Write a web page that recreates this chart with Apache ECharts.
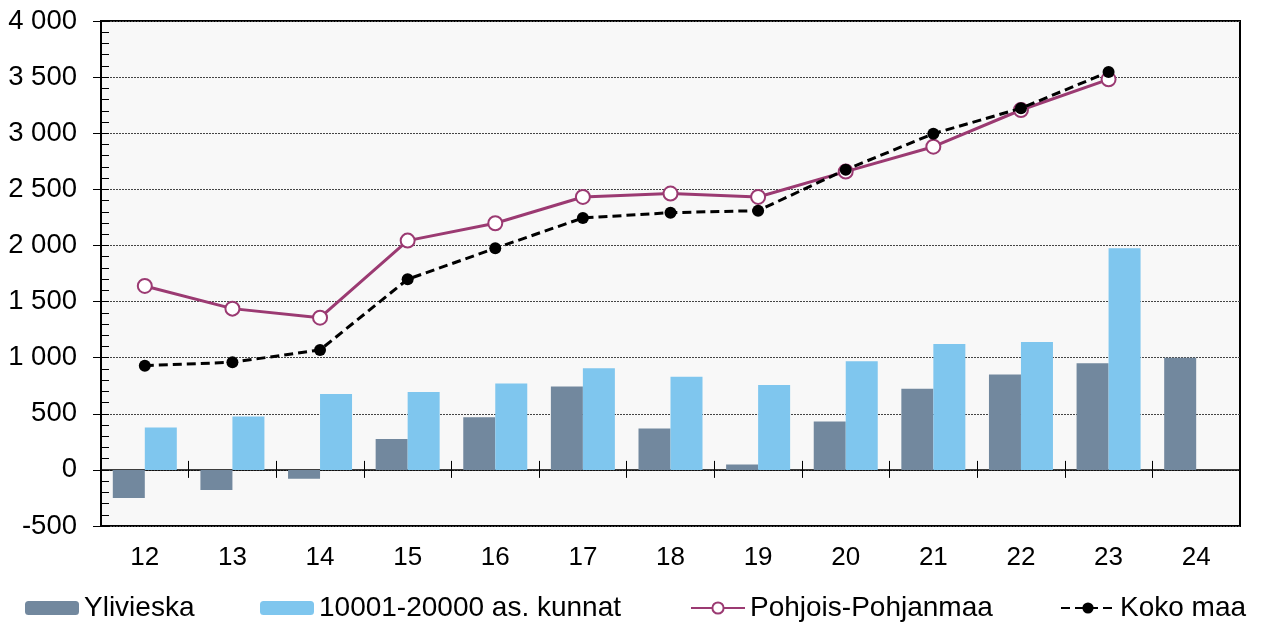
<!DOCTYPE html>
<html>
<head>
<meta charset="utf-8">
<script src="https://cdn.jsdelivr.net/npm/echarts@6/dist/echarts.min.js"></script>
<style>
  html, body { margin: 0; padding: 0; background: #fff; }
  #chart { width: 1266px; height: 622px; }
</style>
</head>
<body>
<div id="chart"></div>
<script>
// kategoriat (vuodet)
const categories = ['12', '13', '14', '15', '16', '17', '18', '19', '20', '21', '22', '23', '24'];

// sarjat
const ylivieska = [-250, -180, -80, 275, 470, 742, 368, 47, 431, 722, 849, 950, 1000];
const kunnat10001 = [377, 475, 677, 695, 769, 906, 831, 757, 968, 1122, 1140, 1975, null];
const pohjoisPohjanmaa = [1639, 1437, 1356, 2043, 2198, 2432, 2462, 2432, 2658, 2880, 3207, 3480, null];
const kokoMaa = [929, 959, 1069, 1699, 1975, 2245, 2292, 2310, 2675, 2996, 3222, 3546, null];

const seriesNames = ['Ylivieska', '10001-20000 as. kunnat', 'Pohjois-Pohjanmaa', 'Koko maa'];
const legendLeft = [25, 260, 690, 1060];

const fontFamily = '"Liberation Sans", Arial, sans-serif';

const chart = echarts.init(document.getElementById('chart'));

const fmt = (v) => String(v).replace(/\B(?=(\d{3})+(?!\d))/g, ' ');

// yksi selite per sarja, jotta paikat osuvat
const legends = seriesNames.map((name, i) => ({
    left: legendLeft[i],
    top: 594,
    padding: 0,
    itemWidth: 54,
    itemHeight: 14,
    itemGap: 0,
    textStyle: { fontSize: 28, color: '#000', fontFamily: fontFamily },
    data: [name]
}));

const option = {
    animation: false,
    textStyle: { fontFamily: fontFamily },
    grid: {
        left: 101,
        right: 26,
        top: 21,
        bottom: 96,
        show: true,
        backgroundColor: '#f8f8f8',
        borderColor: '#000',
        borderWidth: 2,
        containLabel: false
    },
    legend: legends,
    xAxis: [
        {
            // nimikkeet alareunassa
            type: 'category',
            data: categories,
            position: 'bottom',
            axisLine: { show: false, onZero: false },
            axisTick: { show: false },
            axisLabel: { fontSize: 26, color: '#000', margin: 19 }
        },
        {
            // nollaviiva, väkäset ylöspäin
            type: 'category',
            data: categories,
            position: 'bottom',
            axisLine: { show: true, onZero: true, lineStyle: { color: '#000', width: 1.5 } },
            axisTick: { show: true, inside: true, length: 9, lineStyle: { color: '#000', width: 1 } },
            axisLabel: { show: false }
        },
        {
            // nollaviiva, väkäset alaspäin
            type: 'category',
            data: categories,
            position: 'bottom',
            axisLine: { show: false, onZero: true },
            axisTick: { show: true, inside: false, length: 8, lineStyle: { color: '#000', width: 1 } },
            axisLabel: { show: false }
        }
    ],
    yAxis: [
        {
            type: 'value',
            min: -500,
            max: 4000,
            interval: 500,
            axisLine: { show: true, lineStyle: { color: '#000', width: 2 } },
            axisTick: { show: true, length: 8, lineStyle: { color: '#000' } },
            axisLabel: { fontSize: 27.5, color: '#000', margin: 24, formatter: fmt },
            splitLine: { show: true, lineStyle: { color: '#444', type: [2, 1], width: 1 } }
        },
        {
            // pienet väkäset sisäpuolella
            type: 'value',
            min: -500,
            max: 4000,
            interval: 100,
            position: 'left',
            axisLine: { show: false },
            axisTick: { show: true, inside: true, length: 8, lineStyle: { color: '#000' } },
            axisLabel: { show: false },
            splitLine: { show: false }
        }
    ],
    series: [
        {
            name: 'Ylivieska',
            type: 'bar',
            data: ylivieska,
            barWidth: 32,
            barGap: '0%',
            itemStyle: { color: '#72889e' }
        },
        {
            name: '10001-20000 as. kunnat',
            type: 'bar',
            data: kunnat10001,
            barWidth: 32,
            barGap: '0%',
            itemStyle: { color: '#7fc6ee' }
        },
        {
            name: 'Pohjois-Pohjanmaa',
            type: 'line',
            data: pohjoisPohjanmaa,
            symbol: 'circle',
            symbolSize: 14,
            lineStyle: { color: '#9b3a72', width: 3 },
            itemStyle: { color: '#fff', borderColor: '#9b3a72', borderWidth: 2 },
            z: 3
        },
        {
            name: 'Koko maa',
            type: 'line',
            data: kokoMaa,
            symbol: 'circle',
            symbolSize: 12,
            lineStyle: { color: '#000', width: 3, type: [9, 5] },
            itemStyle: { color: '#000' },
            z: 4
        }
    ]
};

chart.setOption(option);
window.addEventListener('resize', () => chart.resize());
</script>
</body>
</html>
